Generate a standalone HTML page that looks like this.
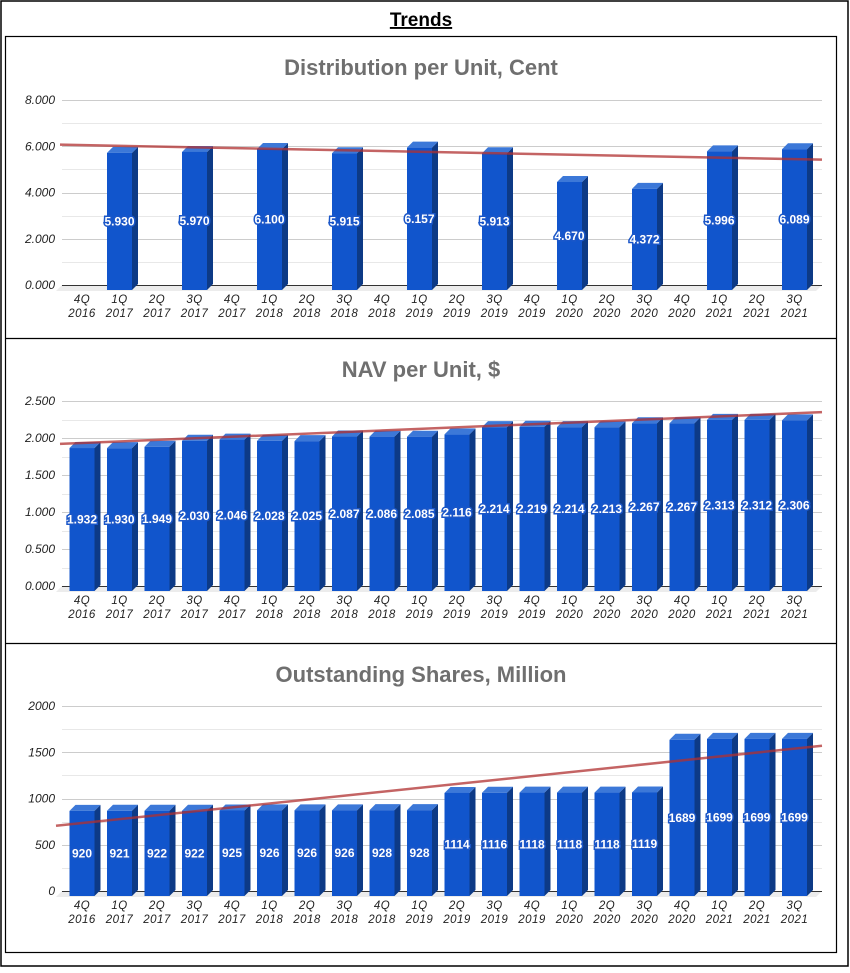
<!DOCTYPE html>
<html><head><meta charset="utf-8"><style>
body{margin:0;background:#fff;font-family:"Liberation Sans",sans-serif;}
#wrap{position:relative;width:850px;height:968px;}
</style></head><body>
<div id="wrap">
<svg id="svg" width="850" height="968" xmlns="http://www.w3.org/2000/svg">
<rect x="1" y="1" width="847" height="965" fill="none" stroke="#000" stroke-width="1.5"/>
<text x="421" y="26" text-anchor="middle" font-size="19" font-weight="bold" text-decoration="underline">Trends</text>
<rect x="5.5" y="36.5" width="831" height="916" fill="none" stroke="#000" stroke-width="1.2"/>
<line x1="5" y1="338.5" x2="837" y2="338.5" stroke="#000" stroke-width="1.2"/>
<line x1="5" y1="643.5" x2="837" y2="643.5" stroke="#000" stroke-width="1.2"/>
</svg>
</div>
<script>
const categories=["4Q 2016","1Q 2017","2Q 2017","3Q 2017","4Q 2017","1Q 2018","2Q 2018","3Q 2018","4Q 2018","1Q 2019","2Q 2019","3Q 2019","4Q 2019","1Q 2020","2Q 2020","3Q 2020","4Q 2020","1Q 2021","2Q 2021","3Q 2021"];
const distValues=[null,5.930,null,5.970,null,6.100,null,5.915,null,6.157,null,5.913,null,4.670,null,4.372,null,5.996,null,6.089];
const distTicks=["0.000","2.000","4.000","6.000","8.000"];
const distTrend=[6.07,5.42];
const navValues=[1.932,1.930,1.949,2.030,2.046,2.028,2.025,2.087,2.086,2.085,2.116,2.214,2.219,2.214,2.213,2.267,2.267,2.313,2.312,2.306];
const navTicks=["0.000","0.500","1.000","1.500","2.000","2.500"];
const navTrend=[1.92,2.35];
const sharesValues=[920,921,922,922,925,926,926,926,928,928,1114,1116,1118,1118,1118,1119,1689,1699,1699,1699];
const sharesTicks=["0","500","1000","1500","2000"];
const sharesTrend=[705,1570];
const NS="http://www.w3.org/2000/svg";
const svg=document.getElementById('svg');
function mk(tag,attrs,parent){const e=document.createElementNS(NS,tag);for(const k in attrs)e.setAttribute(k,attrs[k]);(parent||svg).appendChild(e);return e;}
function chart(cfg){
 const g=mk('g',{});
 
 
 const t=mk('text',{x:421,y:cfg.titleY,'text-anchor':'middle','font-size':22,'font-weight':'bold',fill:'#6f6f6f'},g);
 t.textContent=cfg.title;
 
 
 const x0=62,x1=822,maxV=parseFloat(cfg.ticks[cfg.ticks.length-1]);
 const y=v=>cfg.y0-(v/maxV)*(cfg.y0-cfg.yTop);
 const n=cfg.ticks.length-1;
 for(let i=0;i<n*2+1;i++){
  const v=maxV*i/(n*2);const yy=Math.round(y(v))+0.5;
  const l=mk('line',{x1:x0,x2:x1,y1:yy,y2:yy,stroke:i%2?'#e8e8e8':'#cccccc','stroke-width':1},g);
  
  
 }
 cfg.ticks.forEach((tk,i)=>{
  const tx=mk('text',{x:55,y:y(parseFloat(tk))+4,'text-anchor':'end','font-size':12,'font-style':'italic',fill:'#222'},g);
  tx.textContent=tk;
  
  
 });
 const fl=mk('polygon',{points:`${x0},${cfg.y0} ${x1},${cfg.y0} ${x1-6},${cfg.y0+6} ${x0-6},${cfg.y0+6}`,fill:'#ececec'},g);
 
 
 const ax=mk('line',{x1:x0,x2:x1,y1:cfg.y0+0.5,y2:cfg.y0+0.5,stroke:'#333','stroke-width':1},g);
 
 
 const cx=i=>82+i*(794.5-82)/19;
 cfg.values.forEach((v,i)=>{
  const c=cx(i);
  const parts=categories[i].split(' ');
  const lt=mk('text',{x:c,y:cfg.y0+18,'text-anchor':'middle','font-size':11.5,'font-style':'italic',fill:'#222','letter-spacing':0.5},g);
  lt.textContent=parts[0];
  
  
  const lt2=mk('text',{x:c,y:cfg.y0+32,'text-anchor':'middle','font-size':11.5,'font-style':'italic',fill:'#222','letter-spacing':0.5},g);
  lt2.textContent=parts[1];
  
  
  if(v==null)return;
  const w=25,d=6,L=c-w/2,R=c+w/2,bot=cfg.y0+5,top=y(v)+5;
  const bg=mk('g',{},g);
  
  
  mk('polygon',{points:`${R},${top} ${R+d},${top-6} ${R+d},${bot-6} ${R},${bot}`,fill:'#0d3a86'},bg);
  mk('polygon',{points:`${L},${top} ${L+d},${top-6} ${R+d},${top-6} ${R},${top}`,fill:'#3c78d8'},bg);
  mk('rect',{x:L,y:top,width:w,height:bot-top,fill:'#1155cc'},bg);
  const vl=mk('text',{x:c,y:(top+bot)/2+4,'text-anchor':'middle','font-size':cfg.fs,'font-weight':cfg.fw,fill:'#fff',stroke:'#1a56c8','stroke-width':3,'paint-order':'stroke'},g);
  vl.textContent=cfg.fmt(v);
  
  
 });
 const tl=mk('line',{x1:cfg.tx0,y1:y(cfg.trend[0]),x2:x1,y2:y(cfg.trend[1]),stroke:'#b03030','stroke-opacity':0.75,'stroke-width':2.5},g);
 
 
}
chart({name:'distribution-chart',title:'Distribution per Unit, Cent',titleY:75,values:distValues,ticks:distTicks,trend:distTrend,y0:285,yTop:100,tx0:60,fs:12,fw:'bold',fmt:v=>v.toFixed(3)});
chart({name:'nav-chart',title:'NAV per Unit, $',titleY:377,values:navValues,ticks:navTicks,trend:navTrend,y0:586,yTop:401,tx0:60,fs:12,fw:'bold',fmt:v=>v.toFixed(3)});
chart({name:'shares-chart',title:'Outstanding Shares, Million',titleY:682,values:sharesValues,ticks:sharesTicks,trend:sharesTrend,y0:891,yTop:706,tx0:56,fs:12,fw:'bold',fmt:v=>String(v)});
</script>
</body></html>
